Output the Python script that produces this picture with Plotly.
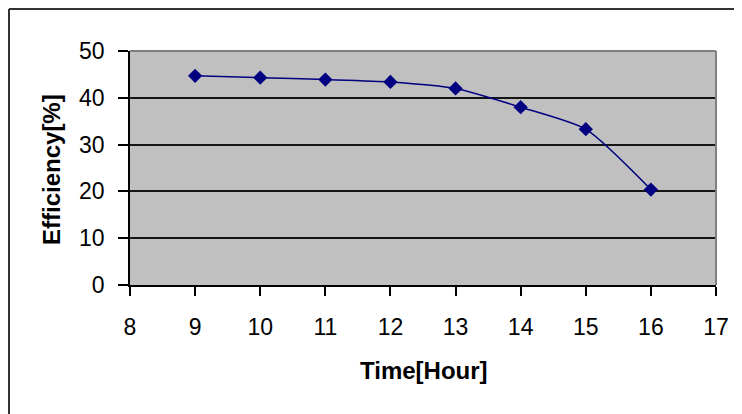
import plotly.graph_objects as go

# data
hours = [9, 10, 11, 12, 13, 14, 15, 16]
efficiency = [44.7, 44.3, 43.9, 43.4, 42.0, 38.0, 33.3, 20.4]
x_ticks = list(range(8, 18))
y_ticks = [0, 10, 20, 30, 40, 50]

NAVY = "#000080"; PLOTBG = "#c0c0c0"; GRID = "#151515"; FRAME = "#808080"
FONT = "Liberation Sans, Arial, sans-serif"

OFF = 8                           # page body margin
W, H = 742 - OFF, 414 - OFF
L, R, T, B = 130, 716, 51, 285    # plot area, page px


def px_x(px):
    return (px - L) / (R - L)


def px_y(py):
    return (B - py) / (B - T)


fig = go.Figure(go.Scatter(
    x=hours, y=efficiency, mode="lines+markers",
    line=dict(color=NAVY, width=1.5, shape="spline", smoothing=0.6),
    marker=dict(symbol="diamond", size=11, color=NAVY),
    showlegend=False, cliponaxis=False))

fig.update_layout(
    width=W, height=H,
    paper_bgcolor="white", plot_bgcolor=PLOTBG,
    font=dict(family=FONT, color="black", size=23),
    margin=dict(l=L - OFF, r=742 - R, t=T - OFF, b=414 - B, pad=0),
    xaxis=dict(range=[8, 17], tickvals=x_ticks, showgrid=False, zeroline=False,
               showline=True, linecolor="black", linewidth=1.5,
               ticks="outside", ticklen=9, tickwidth=1.5, tickcolor="black",
               ticklabelstandoff=12, tickfont=dict(size=23)),
    yaxis=dict(range=[0, 50], tickvals=y_ticks, showgrid=True, gridcolor=GRID,
               gridwidth=1.5, zeroline=False,
               showline=True, linecolor="black", linewidth=1.5,
               ticks="outside", ticklen=10, tickwidth=1.5, tickcolor="black",
               ticklabelstandoff=9, tickfont=dict(size=23)),
    shapes=[
        # plot area frame (top and right)
        dict(type="line", xref="paper", yref="paper", x0=0, x1=1, y0=1, y1=1,
             line=dict(color=FRAME, width=2)),
        dict(type="line", xref="paper", yref="paper", x0=1, x1=1, y0=0, y1=1,
             line=dict(color=FRAME, width=2)),
        # outer chart border (left and top visible)
        dict(type="line", xref="paper", yref="paper", x0=px_x(9), x1=px_x(9),
             y0=px_y(9), y1=px_y(430), line=dict(color="#333333", width=2)),
        dict(type="line", xref="paper", yref="paper", x0=px_x(9), x1=px_x(760),
             y0=px_y(9), y1=px_y(9), line=dict(color="#333333", width=2)),
    ],
    annotations=[
        dict(text="<b>Time[Hour]</b>", xref="paper", yref="paper",
             x=px_x(424), y=px_y(370), xanchor="center", yanchor="middle",
             showarrow=False, font=dict(size=24, family=FONT)),
        dict(text="<b>Efficiency[%]</b>", xref="paper", yref="paper",
             x=px_x(51), y=px_y(170), xanchor="center", yanchor="middle",
             showarrow=False, textangle=-90, font=dict(size=24, family=FONT)),
    ],
)

fig.write_html("out.html")
